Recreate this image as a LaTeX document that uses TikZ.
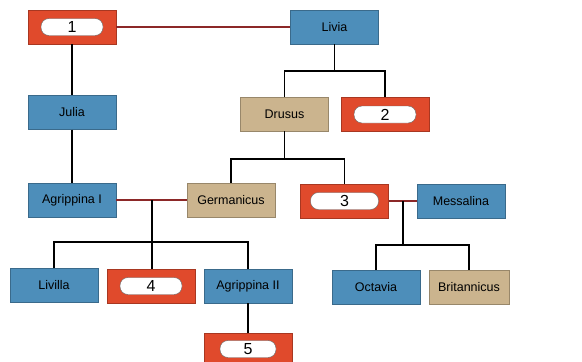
\documentclass[tikz,border=0pt]{standalone}
\usepackage{fontspec}
\setmainfont{Liberation Sans}
\definecolor{bluebox}{RGB}{77,142,186}
\definecolor{tanbox}{RGB}{203,180,142}
\definecolor{redbox}{RGB}{224,74,44}
\definecolor{marry}{RGB}{140,40,40}
\begin{document}
\begin{tikzpicture}[x = 1pt, y = -1pt,
   person/.style = {draw=bluebox!75!black, fill=bluebox, minimum width=88pt, minimum height=34pt,
      inner sep=0pt, font=\fontsize{12.5}{14}\selectfont},
   son/.style = {person, draw=tanbox!75!black, fill=tanbox},
   blank/.style = {person, draw=redbox!75!black, fill=redbox},
   pill/.style = {draw=black!60, fill=white, rounded corners=8pt, minimum width=62pt,
      minimum height=17pt, inner sep=0pt, font=\fontsize{16}{17}\selectfont},
   line/.style = {line width=1.3pt},
   wed/.style = {line width=1.3pt, color=marry}]
   \useasboundingbox (0, 0) rectangle (582, 362);
   \fill[white] (0, 0) rectangle (582, 362);
   \node[blank] (n1) at (72, 27) {};
   \node[pill] (p1) at (n1) {1};
   \node[person] (livia) at (334.5, 27) {Livia};
   \node[person] (julia) at (72, 112.5) {Julia};
   \node[son] (drusus) at (284.5, 114) {Drusus};
   \node[blank] (n2) at (385, 114.5) {};
   \node[pill] (p2) at (n2) {2};
   \node[person] (agrI) at (72, 200) {Agrippina I};
   \node[son] (germ) at (231, 200) {Germanicus};
   \node[blank] (n3) at (344.5, 201) {};
   \node[pill, minimum width=68pt] (p3) at (n3) {3};
   \node[person] (mess) at (461, 201) {Messalina};
   \node[person] (livilla) at (54, 285.5) {Livilla};
   \node[blank] (n4) at (151, 286) {};
   \node[pill] (p4) at (n4) {4};
   \node[person] (agrII) at (248, 286) {Agrippina II};
   \node[person] (octavia) at (376, 287) {Octavia};
   \node[son, minimum width=80pt] (brit) at (469, 287) {Britannicus};
   \node[blank] (n5) at (248, 350) {};
   \node[pill, minimum width=56pt] (p5) at (248, 349) {5};
   \coordinate (lvd) at (334.5, 71);
   \coordinate (drd) at (284.5, 159);
   \coordinate (agm) at (152, 200);
   \coordinate (agd) at (152, 242);
   \coordinate (msm) at (403, 201);
   \coordinate (msd) at (403, 245);
   \draw[wed] (n1.east) -- (livia.west);
   \draw[wed] (agrI.east) -- (germ.west);
   \draw[wed] (n3.east) -- (mess.west);
   \draw[line] (n1.south) -- (julia.north);
   \draw[line] (julia.south) -- (agrI.north);
   \draw[line] (livia.south) -- (lvd);
   \draw[line] (drusus.north) |- (lvd) -| (n2.north);
   \draw[line] (drusus.south) -- (drd);
   \draw[line] (germ.north) |- (drd) -| (n3.north);
   \draw[line] (agm) -- (agd);
   \draw[line] (livilla.north) |- (agd) -| (agrII.north);
   \draw[line] (agd) -- (agd |- n4.north);
   \draw[line] (msm) -- (msd);
   \draw[line] (octavia.north) |- (msd) -| (brit.north);
   \draw[line] (agrII.south) -- (n5.north);
\end{tikzpicture}
\end{document}
